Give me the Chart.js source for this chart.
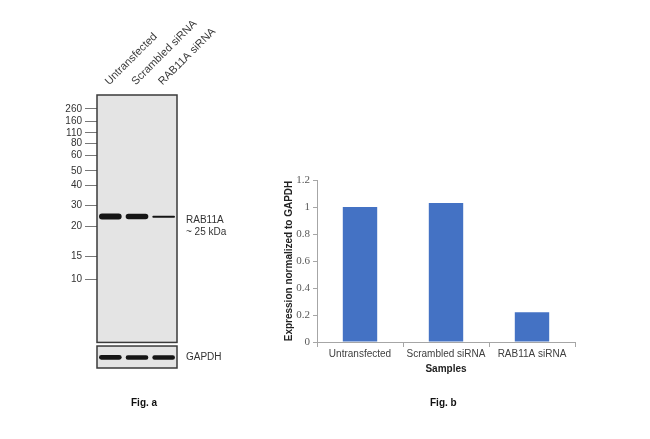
<!DOCTYPE html>
<html>
<head>
<meta charset="utf-8">
<script src="https://cdn.jsdelivr.net/npm/chart.js@4"></script>
<style>
  html, body { margin: 0; padding: 0; background: #fff; }
  #wrap { position: relative; width: 650px; height: 439px; overflow: hidden; }
  #wrap canvas { position: absolute; left: 0; top: 0; }
  .fig { position: absolute; font: bold 10px "Liberation Sans", Arial, sans-serif; color: #111; }
</style>
</head>
<body>
<div id="wrap">
  <canvas id="blot" width="650" height="439"></canvas>
  <canvas id="bars" width="650" height="439"></canvas>
  <div class="fig" style="left:131px; top:397px;">Fig. a</div>
  <div class="fig" style="left:430px; top:397px;">Fig. b</div>
</div>
<script>
// Fig. a - western blot
const lanes = ['Untransfected', 'Scrambled siRNA', 'RAB11A siRNA'];
const markerKDa = [260, 160, 110, 80, 60, 50, 40, 30, 20, 15, 10];
const markerMigration = [14, 26.7, 38, 48.3, 60.3, 76, 90.7, 110.7, 131.3, 161.3, 184.7]; // от верха геля
const rabBand = [[118.6, 124.6], [118.8, 124.4], [120.8, 122.8]];
const gapdhBand = [[260.3, 265], [260.5, 265], [260.5, 265]];
const sideLabels = [['RAB11A', '~ 25 kDa'], 'GAPDH'];
const sideLabelMigration = [131, 263];

// Fig. b - quantification
const samples = ['Untransfected', 'Scrambled siRNA', 'RAB11A siRNA'];
const expression = [1.0, 1.03, 0.22];
const yTicks = [0, 0.2, 0.4, 0.6, 0.8, 1, 1.2];

Chart.defaults.font.family = '"Liberation Sans", Arial, sans-serif';
Chart.defaults.animation = false;

// рамки геля
const gelBoxes = {
  id: 'gelBoxes',
  beforeDatasetsDraw(chart) {
    const { ctx, chartArea } = chart;
    const y = chart.scales.y;
    const boxes = [[0, 247.7], [251.3, 273.3]];
    ctx.save();
    boxes.forEach(([a, b]) => {
      const top = y.getPixelForValue(a);
      const bot = y.getPixelForValue(b);
      ctx.fillStyle = '#e4e4e4';
      ctx.fillRect(chartArea.left, top, chartArea.right - chartArea.left, bot - top);
      ctx.strokeStyle = '#3a3a3a';
      ctx.lineWidth = 1.5;
      ctx.strokeRect(chartArea.left, top, chartArea.right - chartArea.left, bot - top);
    });
    ctx.restore();
  }
};

new Chart(document.getElementById('blot'), {
  type: 'bar',
  data: {
    labels: lanes,
    datasets: [
      { data: rabBand, backgroundColor: '#151515', borderRadius: 3, borderSkipped: false,
        barPercentage: 0.85, categoryPercentage: 1, yAxisID: 'y' },
      { data: gapdhBand, backgroundColor: '#151515', borderRadius: 3, borderSkipped: false,
        barPercentage: 0.85, categoryPercentage: 1, yAxisID: 'y' }
    ]
  },
  options: {
    responsive: false,
    grouped: false,
    layout: { padding: { left: 57, right: 413, top: 5, bottom: 71 } },
    plugins: { legend: { display: false }, tooltip: { enabled: false } },
    scales: {
      x: {
        position: 'top',
        grid: { display: false, drawTicks: false },
        border: { display: false },
        ticks: { minRotation: 45, maxRotation: 45, autoSkip: false, padding: 7, labelOffset: 6,
          color: '#3a3a3a', font: { size: 11 } },
        afterFit(s) { s.height = 90; }
      },
      y: {
        reverse: true, min: 0, max: 273.3,
        grid: { drawOnChartArea: false, tickLength: 12, color: '#777' },
        border: { display: false },
        ticks: { padding: 3, color: '#333', font: { size: 10 },
          callback: (v, i) => markerKDa[i] },
        afterBuildTicks(s) { s.ticks = markerMigration.map(v => ({ value: v })); },
        afterFit(s) { s.width = 40; }
      },
      side: {
        position: 'right',
        reverse: true, min: 0, max: 273.3,
        grid: { display: false, drawTicks: false },
        border: { display: false },
        ticks: { padding: 9, color: '#333', font: { size: 10 },
          callback: (v, i) => sideLabels[i] },
        afterBuildTicks(s) { s.ticks = sideLabelMigration.map(v => ({ value: v })); },
        afterFit(s) { s.width = 60; }
      }
    }
  },
  plugins: [gelBoxes]
});

new Chart(document.getElementById('bars'), {
  type: 'bar',
  data: {
    labels: samples,
    datasets: [{
      data: expression,
      backgroundColor: '#4472c4',
      barPercentage: 0.4,
      categoryPercentage: 1
    }]
  },
  options: {
    responsive: false,
    layout: { padding: { left: 267, right: 75, top: 180, bottom: 64 } },
    plugins: { legend: { display: false }, tooltip: { enabled: false } },
    scales: {
      x: {
        grid: { drawOnChartArea: false, offset: true, tickLength: 5, color: '#a6a6a6' },
        border: { color: '#a6a6a6' },
        ticks: { color: '#404040', padding: 1, maxRotation: 0, minRotation: 0, autoSkip: false, font: { size: 10 } },
        title: { display: true, text: 'Samples', color: '#222', padding: 0,
          font: { size: 10, weight: 'bold' } },
        afterFit(s) { s.height = 33; }
      },
      y: {
        min: 0, max: 1.2,
        grid: { drawOnChartArea: false, tickLength: 4, color: '#a6a6a6' },
        border: { color: '#a6a6a6' },
        ticks: { color: '#595959', padding: 3, font: { family: '"Liberation Serif", serif', size: 11 },
          callback: v => String(+v.toFixed(1)) },
        afterBuildTicks(s) { s.ticks = yTicks.map(v => ({ value: v })); },
        title: { display: true, text: 'Expression normalized to GAPDH', color: '#222',
          padding: { top: 16, bottom: 0 }, font: { size: 10, weight: 'bold' } },
        afterFit(s) { s.width = 50; }
      }
    }
  }
});
</script>
</body>
</html>
